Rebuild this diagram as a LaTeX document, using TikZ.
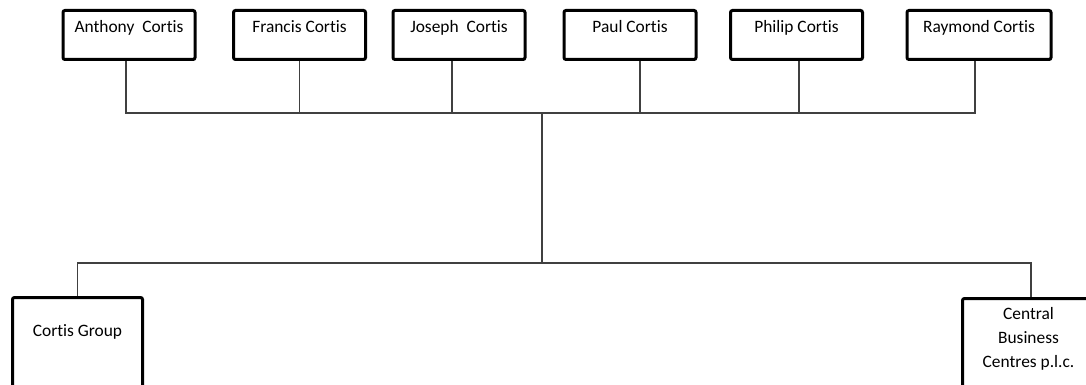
\documentclass[tikz,border=0pt]{standalone}
\usepackage{fontspec}
\setmainfont{Carlito}[Ligatures=NoCommon]
\tikzset{
  person/.style={draw, line width=3pt, rounded corners=2pt, inner sep=0pt, minimum width=132pt,
    text height=22.5pt, text depth=26.5pt, anchor=base, font=\fontsize{17.4}{24}\selectfont},
  company/.style={draw, line width=3pt, rounded corners=2pt, inner sep=0pt, minimum width=130pt,
    text depth=100pt, anchor=base, font=\fontsize{17.4}{24}\selectfont},
  link/.style={draw=black!75, line width=1.1pt}
}
\begin{document}
\begin{tikzpicture}[x=1pt, y=-1pt]
  \useasboundingbox (0,0) rectangle (1086,385);
  \clip (0,0) rectangle (1086,385);
  \node[person] (anthony) at (129,33) {Anthony\ \ Cortis};
  \node[person] (francis) at (299.5,33) {Francis Cortis};
  \node[person] (joseph) at (459,33) {Joseph\ \ Cortis};
  \node[person] (paul) at (630,33) {Paul Cortis};
  \node[person] (philip) at (796.5,33) {Philip Cortis};
  \node[person, minimum width=144pt] (raymond) at (979,33) {Raymond Cortis};
  \coordinate (topbus) at (542,113);
  \coordinate (botbus) at (542,263);
  \node[company, text height=38.5pt] (group) at (77.5,336) {Cortis Group};
  \node[company, minimum width=132pt, text height=20.5pt] (cbc) at (1028.5,319)
    {\begin{tabular}[t]{@{}c@{}}Central\\Business\\Centres p.l.c.\end{tabular}};
  \draw[link] ([xshift=-3pt]anthony.south) |- (topbus);
  \draw[link] (francis.south) |- (topbus);
  \draw[link] ([xshift=-7pt]joseph.south) |- (topbus);
  \draw[link] ([xshift=10pt]paul.south) |- (topbus);
  \draw[link] ([xshift=2.5pt]philip.south) |- (topbus);
  \draw[link] ([xshift=-4pt]raymond.south) |- (topbus);
  \draw[link] (topbus) -- (botbus);
  \draw[link] (botbus) -| (group.north);
  \draw[link] (botbus) -| ([xshift=2.5pt]cbc.north);
\end{tikzpicture}
\end{document}
